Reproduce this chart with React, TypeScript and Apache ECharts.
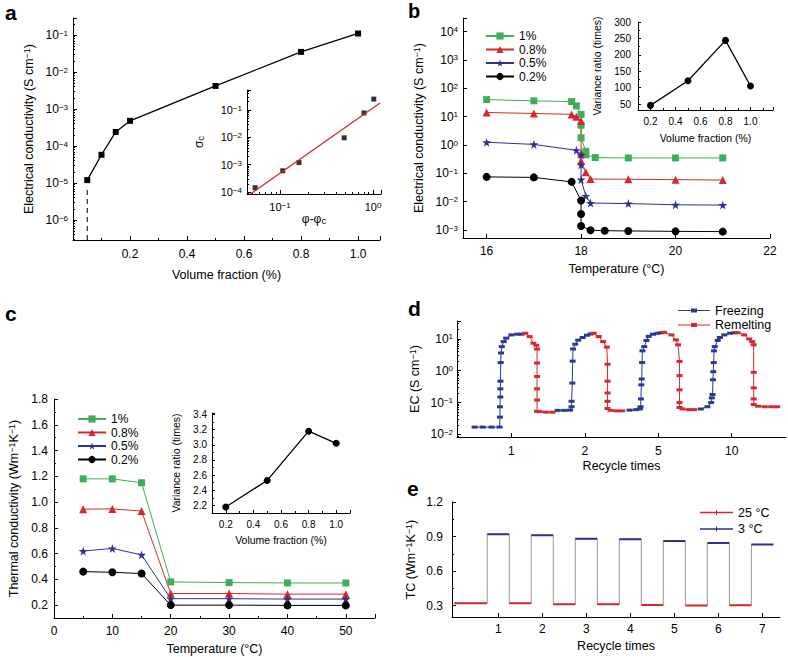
import React, { useEffect, useRef } from 'react';
import * as echarts from 'echarts';

const FONT = '"Liberation Sans", Arial, Helvetica, sans-serif';
const GREEN = '#3fae5a';
const RED = '#d7282f';
const BLUE = '#2e3192';
const BLACK = '#000000';
const GRAY = '#9a9a9a';
const STAR = 'path://M50,0 L61,35 L98,35 L68,57 L79,91 L50,70 L21,91 L32,57 L2,35 L39,35 Z';
const ICON_D = 'path://M0,4.5L32,4.5L32,5.5L0,5.5Z M13,3L19,3L19,7L13,7Z';
const ICON_E = 'path://M0,4.2L33,4.2L33,5.8L0,5.8Z M16,2.5L17,2.5L17,7.5L16,7.5Z';

// ---------- panel a ----------
const aFraction = [0.05, 0.1, 0.15, 0.2, 0.5, 0.8, 1.0];
const aConductivity = [1.2e-5, 5.8e-5, 2.4e-4, 4.8e-4, 4.2e-3, 0.035, 0.11];
const aInsetPhi = [0.054, 0.107, 0.16, 0.49, 0.8, 1.02];
const aInsetSigma = [1.45e-4, 6e-4, 1.2e-3, 9.6e-3, 0.078, 0.25];
const aFitPhi = [0.048, 1.19];
const aFitSigma = [8.5e-5, 0.18];

// ---------- panel b ----------
const fractionNames = ['1%', '0.8%', '0.5%', '0.2%'];
const bTemp1 = [16, 17, 17.8, 17.9, 18, 18, 18, 18.1, 18.1, 18.3, 19, 20, 21];
const bEC1 = [40, 36, 34, 24, 12, 5, 1.8, 0.6, 0.45, 0.36, 0.35, 0.35, 0.35];
const bTemp08 = [16, 17, 17.8, 17.9, 18, 18, 18, 18.1, 18.2, 19, 20, 21];
const bEC08 = [14, 13, 12, 10, 7, 0.5, 0.28, 0.11, 0.063, 0.062, 0.06, 0.058];
const bTemp05 = [16, 17, 17.9, 18, 18, 18, 18.1, 18.2, 19, 20, 21];
const bEC05 = [1.25, 1.05, 0.65, 0.45, 0.2, 0.06, 0.016, 0.009, 0.0086, 0.0078, 0.0076];
const bTemp02 = [16, 17, 17.8, 18, 18, 18, 18.2, 18.5, 19, 20, 21];
const bEC02 = [0.075, 0.072, 0.05, 0.011, 0.0037, 0.0014, 0.00098, 0.00095, 0.00093, 0.0009, 0.00088];
const bInsetFraction = [0.2, 0.5, 0.8, 1.0];
const bInsetRatio = [46, 121, 244, 105];

// ---------- panel c ----------
const cTemp = [5, 10, 15, 20, 30, 40, 50];
const cTC1 = [1.18, 1.18, 1.15, 0.38, 0.375, 0.372, 0.372];
const cTC08 = [0.945, 0.947, 0.93, 0.29, 0.29, 0.285, 0.285];
const cTC05 = [0.62, 0.64, 0.59, 0.25, 0.25, 0.247, 0.247];
const cTC02 = [0.46, 0.455, 0.445, 0.2, 0.2, 0.198, 0.198];
const cInsetFraction = [0.2, 0.5, 0.8, 1.0];
const cInsetRatio = [2.18, 2.53, 3.18, 3.02];

// ---------- panel d ----------
const dCycleLabels = ['1', '2', '5', '10'];
const dFreeze1 = [[0.5, 0.017], [0.61, 0.017], [0.73, 0.017], [0.84, 0.017], [0.845, 0.035], [0.845, 0.074], [0.85, 0.15], [0.85, 0.27], [0.852, 0.47], [0.855, 1.8], [0.86, 3.6], [0.87, 5.7], [0.895, 8.2], [0.93, 10.5], [1.0, 13.3], [1.08, 14], [1.14, 14]];
const dMelt1 = [[1.19, 15], [1.25, 11.8], [1.3, 7.3], [1.34, 6.3], [1.35, 4.8], [1.35, 1.74], [1.35, 0.66], [1.35, 0.27], [1.35, 0.12], [1.35, 0.053], [1.385, 0.052], [1.47, 0.05], [1.56, 0.05]];
const dFreeze2 = [[1.63, 0.057], [1.72, 0.057], [1.8, 0.058], [1.82, 0.074], [1.82, 0.11], [1.83, 0.41], [1.835, 2.0], [1.84, 4.8], [1.87, 6.8], [1.91, 9.1], [1.97, 11], [2.03, 13], [2.08, 14.2]];
const dMelt2 = [[2.12, 15], [2.19, 11.8], [2.25, 8.2], [2.3, 5.5], [2.31, 1.6], [2.31, 0.47], [2.31, 0.2], [2.31, 0.11], [2.31, 0.065], [2.35, 0.057], [2.43, 0.055], [2.51, 0.055]];
const dFreeze3 = [[2.61, 0.058], [2.7, 0.06], [2.75, 0.063], [2.76, 0.074], [2.765, 0.13], [2.77, 0.36], [2.775, 0.55], [2.78, 1.8], [2.785, 4.2], [2.81, 5.7], [2.84, 8.9], [2.87, 12], [2.93, 14], [2.99, 15], [3.04, 15.5]];
const dMelt3 = [[3.08, 16], [3.18, 13.3], [3.24, 9.3], [3.27, 6.5], [3.29, 1.96], [3.29, 0.7], [3.29, 0.25], [3.29, 0.1], [3.29, 0.07], [3.33, 0.063], [3.42, 0.06], [3.49, 0.06]];
const dFreeze4 = [[3.58, 0.063], [3.67, 0.074], [3.72, 0.1], [3.73, 0.14], [3.74, 0.18], [3.745, 0.52], [3.75, 0.93], [3.755, 1.8], [3.76, 4.2], [3.77, 5.7], [3.81, 8.9], [3.84, 11], [3.9, 13.3], [3.98, 15], [4.04, 15.5]];
const dMelt4 = [[4.08, 15.6], [4.17, 13.3], [4.24, 9.9], [4.28, 8.2], [4.3, 6.5], [4.3, 0.89], [4.3, 0.29], [4.3, 0.13], [4.3, 0.087], [4.36, 0.077], [4.45, 0.074], [4.54, 0.074], [4.62, 0.074]];

// ---------- panel e ----------
const eCycles = [1, 2, 3, 4, 5, 6, 7];
const eTC25 = [0.32, 0.32, 0.31, 0.31, 0.305, 0.3, 0.303];
const eTC3 = [0.92, 0.91, 0.88, 0.877, 0.86, 0.843, 0.83];

const RICH = {
  s: { fontSize: 8, fontFamily: FONT, color: '#000', verticalAlign: 'top', lineHeight: 8 },
};
const RICH_NAME = {
  s: { fontSize: 9, fontFamily: FONT, color: '#000', verticalAlign: 'top', lineHeight: 9 },
  c: { fontSize: 9.5, fontFamily: FONT, color: '#000', verticalAlign: 'bottom', lineHeight: 9 },
};

const logFmt = (v: number) => {
  const e = Math.log10(v);
  const r = Math.round(e);
  if (Math.abs(e - r) > 1e-6) return '';
  return '10{s|' + (r < 0 ? '\u2212' + -r : String(r)) + '}';
};
const stepFmt = (step: number, dec: number, skipZero = false) => (v: number) => {
  const k = v / step;
  if (Math.abs(k - Math.round(k)) > 1e-6) return '';
  if (skipZero && Math.abs(v) < 1e-9) return '';
  return v.toFixed(dec);
};

function mkAxis(gridIndex: number, o: any) {
  const ax: any = {
    gridIndex,
    type: o.type || 'value',
    min: o.min,
    max: o.max,
    name: o.name || '',
    nameLocation: 'middle',
    nameGap: o.nameGap || 20,
    nameTextStyle: { color: '#000', fontSize: o.nameSize || 12.5, fontFamily: FONT, rich: RICH_NAME },
    axisLine: { show: true, onZero: false, lineStyle: { color: '#000', width: 1 } },
    axisTick: { show: true, inside: true, length: o.tickLen || 4, lineStyle: { color: '#000', width: 1 } },
    minorTick: { show: !!o.minor, splitNumber: o.minor || 2, length: 2, lineStyle: { color: '#000', width: 1 } },
    axisLabel: {
      color: '#000',
      fontSize: o.labelSize || 12,
      fontFamily: FONT,
      margin: o.margin != null ? o.margin : 6,
      formatter: o.fmt,
      rich: RICH,
    },
    splitLine: { show: false },
    minorSplitLine: { show: false },
  };
  if (o.type === 'log') ax.logBase = 10;
  if (o.interval != null) ax.interval = o.interval;
  if (o.splitNumber != null) ax.splitNumber = o.splitNumber;
  if (o.position) ax.position = o.position;
  if (o.ticks) {
    ax.axisTick.customValues = o.ticks;
    ax.axisLabel.customValues = o.ticks;
  }
  return ax;
}

// overlay axis carrying only the short logarithmic minor ticks (2..9 x 10^n)
function mkLogMinor(gridIndex: number, min: number, max: number, position: string) {
  const vals: number[] = [];
  for (let d = Math.floor(Math.log10(min)); d <= Math.ceil(Math.log10(max)); d++) {
    for (let k = 2; k <= 9; k++) {
      const v = k * Math.pow(10, d);
      if (v > min && v < max) vals.push(v);
    }
  }
  return {
    gridIndex,
    type: 'log',
    logBase: 10,
    min,
    max,
    position,
    offset: 0,
    axisLine: { show: false },
    axisLabel: { show: false },
    splitLine: { show: false },
    axisTick: { show: true, inside: true, length: 2, customValues: vals, lineStyle: { color: '#000', width: 1 } },
    silent: true,
  };
}

const zip = (xs: number[], ys: number[]) => xs.map((x, i) => [x, ys[i]]);
const joinSegments = (segs: number[][][]) => {
  const out: any[] = [];
  segs.forEach((s, i) => {
    if (i > 0) out.push('-');
    s.forEach((p) => out.push(p));
  });
  return out;
};

const styles = [
  { color: GREEN, symbol: 'rect', size: 7 },
  { color: RED, symbol: 'triangle', size: 8 },
  { color: BLUE, symbol: STAR, size: 9 },
  { color: BLACK, symbol: 'circle', size: 8 },
];

function buildOption(): any {
  const bData = [zip(bTemp1, bEC1), zip(bTemp08, bEC08), zip(bTemp05, bEC05), zip(bTemp02, bEC02)];
  const cData = [zip(cTemp, cTC1), zip(cTemp, cTC08), zip(cTemp, cTC05), zip(cTemp, cTC02)];

  const A_YMIN = Math.pow(10, -6.54);
  const A_YMAX = Math.pow(10, -0.54);
  const AI_XMIN = Math.pow(10, -1.355);
  const AI_XMAX = Math.pow(10, 0.086);
  const AI_YMIN = Math.pow(10, -4.07);
  const AI_YMAX = Math.pow(10, -0.27);
  const D_YMIN = Math.pow(10, -2.08);
  const D_YMAX = Math.pow(10, 1.56);

  // panel e step segments
  const eLowSegs = eCycles.map((c, i) => [[i === 0 ? 0 : c - 0.75, eTC25[i]], [c - 0.25, eTC25[i]]]);
  const eHighSegs = eCycles.map((c, i) => [[c - 0.25, eTC3[i]], [c + 0.25, eTC3[i]]]);
  const eStep: number[][] = [];
  eCycles.forEach((c, i) => {
    eLowSegs[i].forEach((p) => eStep.push(p));
    eHighSegs[i].forEach((p) => eStep.push(p));
  });

  const lineSeries = (name: string, xi: number, data: any[], st: any) => ({
    type: 'line',
    name,
    xAxisIndex: xi,
    yAxisIndex: xi,
    data,
    symbol: st.symbol,
    symbolSize: st.size,
    itemStyle: { color: st.color },
    lineStyle: { color: st.color, width: 1 },
  });

  const legendText = { color: '#000', fontSize: 12, fontFamily: FONT };

  return {
    animation: false,
    backgroundColor: '#ffffff',
    textStyle: { fontFamily: FONT },
    grid: [
      { left: 73, top: 18, width: 307, height: 222, outerBoundsMode: 'none' },
      { left: 247, top: 90, width: 134, height: 104, outerBoundsMode: 'none' },
      { left: 463, top: 18, width: 307, height: 220, outerBoundsMode: 'none' },
      { left: 638, top: 22, width: 135, height: 88, outerBoundsMode: 'none' },
      { left: 54, top: 399, width: 321, height: 219, outerBoundsMode: 'none' },
      { left: 212, top: 413, width: 138, height: 100, outerBoundsMode: 'none' },
      { left: 457, top: 321, width: 329, height: 116, outerBoundsMode: 'none' },
      { left: 452, top: 502, width: 328, height: 115, outerBoundsMode: 'none' },
    ],
    xAxis: [
      mkAxis(0, { min: 0, max: 1.077, interval: 0.2, minor: 2, fmt: stepFmt(0.2, 1, true), name: 'Volume fraction (%)', nameGap: 28, margin: 8 }),
      mkAxis(1, { type: 'log', min: AI_XMIN, max: AI_XMAX, fmt: logFmt, name: '\u03c6-\u03c6{c|c}', nameGap: 19, nameSize: 12, labelSize: 11, margin: 7, position: 'bottom' }),
      mkAxis(2, { min: 15.5, max: 22, splitNumber: 3, fmt: stepFmt(2, 0), name: 'Temperature (\u00b0C)', nameGap: 24, margin: 7 }),
      mkAxis(3, { min: 0.1, max: 1.18, minor: 2, fmt: stepFmt(0.2, 1), name: 'Volume fraction (%)', nameGap: 22, nameSize: 10.5, labelSize: 10, margin: 6, tickLen: 3 }),
      mkAxis(4, { min: 0, max: 55, interval: 10, minor: 2, fmt: stepFmt(10, 0), name: 'Temperature (\u00b0C)', nameGap: 24, margin: 7 }),
      mkAxis(5, { min: 0.1, max: 1.1, minor: 2, fmt: stepFmt(0.2, 1), name: 'Volume fraction (%)', nameGap: 21, nameSize: 10.5, labelSize: 10, margin: 6, tickLen: 3 }),
      mkAxis(6, { min: 0.26, max: 4.74, ticks: [1, 2, 3, 4], fmt: (v: number) => { const r = Math.round(v); return Math.abs(v - r) < 1e-6 && r >= 1 && r <= 4 ? dCycleLabels[r - 1] : ''; }, name: 'Recycle times', nameGap: 22, margin: 8 }),
      mkAxis(7, { min: -0.05, max: 7.4, ticks: eCycles, fmt: (v: number) => { const r = Math.round(v); return Math.abs(v - r) < 1e-6 && r >= 1 ? String(r) : ''; }, name: 'Recycle times', nameGap: 22, margin: 6 }),
      mkLogMinor(1, AI_XMIN, AI_XMAX, 'bottom'),
    ],
    yAxis: [
      mkAxis(0, { type: 'log', min: A_YMIN, max: A_YMAX, fmt: logFmt, name: 'Electrical conductivity (S cm{s|\u22121})', nameGap: 38, margin: 5, position: 'left' }),
      mkAxis(1, { type: 'log', min: AI_YMIN, max: AI_YMAX, fmt: logFmt, name: '\u03c3{c|c}', nameGap: 42, nameSize: 12, labelSize: 11, margin: 5, position: 'left' }),
      mkAxis(2, { type: 'log', min: Math.pow(10, -3.28), max: Math.pow(10, 4.48), fmt: logFmt, name: 'Electrical conductivity (S cm{s|\u22121})', nameGap: 38, margin: 5 }),
      mkAxis(3, { min: 32, max: 300, minor: 2, fmt: stepFmt(50, 0), name: 'Variance ratio (times)', nameGap: 36, nameSize: 10.5, labelSize: 10, margin: 7, tickLen: 3 }),
      mkAxis(4, { min: 0.1, max: 1.8, splitNumber: 8, minor: 2, fmt: stepFmt(0.2, 1), name: 'Thermal conductivity (Wm{s|\u22121}K{s|\u22121})', nameGap: 34, margin: 6 }),
      mkAxis(5, { min: 2.1, max: 3.42, splitNumber: 6, minor: 2, fmt: stepFmt(0.2, 1), name: 'Variance ratio (times)', nameGap: 31, nameSize: 10.5, labelSize: 10, margin: 5, tickLen: 3 }),
      mkAxis(6, { type: 'log', min: D_YMIN, max: D_YMAX, fmt: logFmt, name: 'EC (S cm{s|\u22121})', nameGap: 36, margin: 4, position: 'left' }),
      mkAxis(7, { min: 0.2, max: 1.2, splitNumber: 3, minor: 2, fmt: stepFmt(0.3, 1), name: 'TC (Wm{s|\u22121}K{s|\u22121})', nameGap: 35, margin: 9 }),
      mkLogMinor(0, A_YMIN, A_YMAX, 'left'),
      mkLogMinor(1, AI_YMIN, AI_YMAX, 'left'),
      mkLogMinor(6, D_YMIN, D_YMAX, 'left'),
    ],
    legend: [
      { orient: 'vertical', left: 480, top: 25, itemWidth: 28, itemHeight: 9, itemGap: 1.5, selectedMode: false, data: fractionNames, textStyle: legendText },
      { orient: 'vertical', left: 72, top: 408, itemWidth: 28, itemHeight: 9, itemGap: 1.5, selectedMode: false, data: fractionNames, textStyle: legendText },
      { orient: 'vertical', left: 673, top: 299, itemWidth: 32, itemHeight: 10, itemGap: 1.5, selectedMode: false, data: [{ name: 'Freezing', icon: ICON_D }, { name: 'Remelting', icon: ICON_D }], textStyle: { ...legendText, fontSize: 12.5 } },
      { orient: 'vertical', left: 695, top: 501, itemWidth: 33, itemHeight: 10, itemGap: 3.5, selectedMode: false, data: [{ name: '25 \u00b0C', icon: ICON_E }, { name: '3 \u00b0C', icon: ICON_E }], textStyle: { ...legendText, fontSize: 12.5 } },
    ],
    graphic: [
      { type: 'text', x: 5, y: 12, style: { text: 'a', font: 'bold 21px ' + FONT, fill: '#000', verticalAlign: 'middle' } },
      { type: 'text', x: 408, y: 11, style: { text: 'b', font: 'bold 20px ' + FONT, fill: '#000', verticalAlign: 'middle' } },
      { type: 'text', x: 5, y: 313, style: { text: 'c', font: 'bold 21px ' + FONT, fill: '#000', verticalAlign: 'middle' } },
      { type: 'text', x: 408, y: 308, style: { text: 'd', font: 'bold 21px ' + FONT, fill: '#000', verticalAlign: 'middle' } },
      { type: 'text', x: 407, y: 488, style: { text: 'e', font: 'bold 21px ' + FONT, fill: '#000', verticalAlign: 'middle' } },
    ],
    series: [
      // a
      { type: 'line', name: 'a-dash', xAxisIndex: 0, yAxisIndex: 0, data: [[aFraction[0], A_YMIN], [aFraction[0], aConductivity[0] * 0.6]], symbol: 'none', lineStyle: { color: BLACK, width: 1, type: [5, 4] } },
      { type: 'line', name: 'a-main', xAxisIndex: 0, yAxisIndex: 0, data: zip(aFraction, aConductivity), symbol: 'rect', symbolSize: 6, itemStyle: { color: BLACK }, lineStyle: { color: BLACK, width: 1.3 } },
      { type: 'line', name: 'a-fit', xAxisIndex: 1, yAxisIndex: 1, data: zip(aFitPhi, aFitSigma), symbol: 'none', lineStyle: { color: '#d2232a', width: 1.2 } },
      { type: 'scatter', name: 'a-inset', xAxisIndex: 1, yAxisIndex: 1, data: zip(aInsetPhi, aInsetSigma), symbol: 'rect', symbolSize: 5, itemStyle: { color: BLACK } },
      // b
      ...fractionNames.map((n, i) => lineSeries(n, 2, bData[i], styles[i])),
      { type: 'line', name: 'b-inset', xAxisIndex: 3, yAxisIndex: 3, data: zip(bInsetFraction, bInsetRatio), symbol: 'circle', symbolSize: 7, itemStyle: { color: BLACK }, lineStyle: { color: BLACK, width: 1.3 } },
      // c
      ...fractionNames.map((n, i) => lineSeries(n, 4, cData[i], styles[i])),
      { type: 'line', name: 'c-inset', xAxisIndex: 5, yAxisIndex: 5, data: zip(cInsetFraction, cInsetRatio), symbol: 'circle', symbolSize: 7, itemStyle: { color: BLACK }, lineStyle: { color: BLACK, width: 1.3 } },
      // d
      { type: 'line', name: 'Freezing', xAxisIndex: 6, yAxisIndex: 6, data: joinSegments([dFreeze1, dFreeze2, dFreeze3, dFreeze4]), symbol: 'rect', symbolSize: [6, 3], itemStyle: { color: '#2b3990' }, lineStyle: { color: '#2b3990', width: 1 } },
      { type: 'line', name: 'Remelting', xAxisIndex: 6, yAxisIndex: 6, data: joinSegments([dMelt1, dMelt2, dMelt3, dMelt4]), symbol: 'rect', symbolSize: [6, 3], itemStyle: { color: RED }, lineStyle: { color: RED, width: 1 } },
      // e
      { type: 'line', name: 'e-step', xAxisIndex: 7, yAxisIndex: 7, data: eStep, symbol: 'none', lineStyle: { color: GRAY, width: 1 }, z: 1 },
      { type: 'line', name: '25 \u00b0C', xAxisIndex: 7, yAxisIndex: 7, data: joinSegments(eLowSegs), symbol: 'none', itemStyle: { color: RED }, lineStyle: { color: RED, width: 2 }, z: 3 },
      { type: 'line', name: '3 \u00b0C', xAxisIndex: 7, yAxisIndex: 7, data: joinSegments(eHighSegs), symbol: 'none', itemStyle: { color: BLUE }, lineStyle: { color: BLUE, width: 2 }, z: 3 },
    ],
  };
}

export default function App() {
  const ref = useRef<HTMLDivElement>(null);
  useEffect(() => {
    if (!ref.current) return;
    const chart = echarts.init(ref.current, null, { renderer: 'svg' });
    chart.setOption(buildOption());
    return () => chart.dispose();
  }, []);
  return (
    <div
      ref={ref}
      style={{ position: 'absolute', left: 0, top: 0, width: 788, height: 657, background: '#fff' }}
    />
  );
}
